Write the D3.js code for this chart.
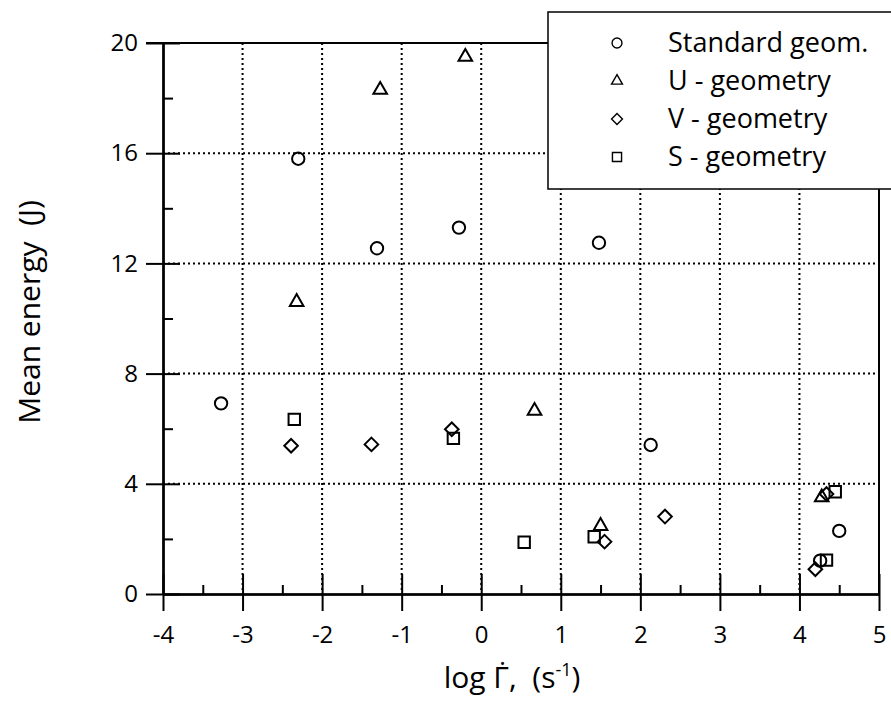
<!DOCTYPE html>
<html>
<head>
<meta charset="utf-8">
<script src="https://cdn.jsdelivr.net/npm/d3@7"></script>
<style>
  body { margin: 0; background: #fff; }
  text { font-family: "Open Sans", sans-serif; fill: #000; white-space: pre; }
</style>
</head>
<body>
<div id="chart"></div>
<script>
// Set the size of the page and the plot box
const width = 891;
const height = 708;
const margin = { top: 43, right: 12, bottom: 114, left: 163 };

// Standard geometry (circles)
const stdX = [-3.27, -2.30, -1.31, -0.28, 1.48, 2.13, 4.50, 4.26];
const stdY = [6.92, 15.8, 12.55, 13.3, 12.75, 5.41, 2.29, 1.21];

// U - geometry (triangles)
const uX = [-2.32, -1.27, -0.20, 0.67, 1.50, 4.28];
const uY = [10.6, 18.3, 19.5, 6.65, 2.47, 3.51];

// V - geometry (diamonds)
const vX = [-2.39, -1.38, -0.37, 1.55, 2.31, 4.34, 4.20];
const vY = [5.38, 5.43, 5.98, 1.90, 2.81, 3.63, 0.90];

// S - geometry (squares)
const sX = [-2.35, -0.35, 0.54, 1.42, 4.45, 4.34];
const sY = [6.34, 5.65, 1.88, 2.08, 3.71, 1.23];

// Axis ticks
const xTicks = [-4, -3, -2, -1, 0, 1, 2, 3, 4, 5];
const xMinor = [-3.5, -2.5, -1.5, -0.5, 0.5, 1.5, 2.5, 3.5, 4.5];
const yTicks = [0, 4, 8, 12, 16, 20];
const yMinor = [2, 6, 10, 14, 18];

const seriesNames = ["Standard geom.", "U - geometry", "V - geometry", "S - geometry"];
const seriesShapes = ["circle", "triangle", "diamond", "square"];

const series = [
  { name: seriesNames[0], shape: seriesShapes[0], xs: stdX, ys: stdY },
  { name: seriesNames[1], shape: seriesShapes[1], xs: uX, ys: uY },
  { name: seriesNames[2], shape: seriesShapes[2], xs: vX, ys: vY },
  { name: seriesNames[3], shape: seriesShapes[3], xs: sX, ys: sY }
];

const plotW = width - margin.left - margin.right;
const plotH = height - margin.top - margin.bottom;

const svg = d3.select("#chart")
  .append("svg")
  .attr("width", width)
  .attr("height", height);

const g = svg.append("g")
  .attr("transform", "translate(" + margin.left + "," + margin.top + ")");

// Scales
const x = d3.scaleLinear().domain([-4, 5]).range([0, plotW]);
const y = d3.scaleLinear().domain([0, 20]).range([plotH, 0]);

// dotted grid lines
g.selectAll(".vgrid")
  .data(xTicks.filter(d => d > -4 && d < 5))
  .enter()
  .append("line")
  .attr("x1", d => x(d)).attr("x2", d => x(d))
  .attr("y1", 0).attr("y2", plotH)
  .attr("stroke", "#000")
  .attr("stroke-width", 2)
  .attr("stroke-dasharray", "2,3");

g.selectAll(".hgrid")
  .data(yTicks.filter(d => d > 0 && d < 20))
  .enter()
  .append("line")
  .attr("x1", 0).attr("x2", plotW)
  .attr("y1", d => y(d)).attr("y2", d => y(d))
  .attr("stroke", "#000")
  .attr("stroke-width", 2)
  .attr("stroke-dasharray", "2,3");

// frame: top and right edges
g.append("line")
  .attr("x1", -17).attr("x2", plotW)
  .attr("y1", 0).attr("y2", 0)
  .attr("stroke", "#000").attr("stroke-width", 2);
g.append("line")
  .attr("x1", plotW).attr("x2", plotW)
  .attr("y1", 0).attr("y2", plotH)
  .attr("stroke", "#000").attr("stroke-width", 2);

// style helper for the axes
function styleAxis(sel) {
  sel.selectAll("path").attr("stroke", "#000").attr("stroke-width", 2);
  sel.selectAll("line").attr("stroke", "#000").attr("stroke-width", 2);
  sel.selectAll("text")
    .style("font-family", "'Open Sans', sans-serif")
    .style("font-size", "24px")
    .attr("fill", "#000");
}

const plainFormat = d => String(d);

// x axis: outward ticks with labels
g.append("g")
  .attr("transform", "translate(0," + plotH + ")")
  .call(d3.axisBottom(x).tickValues(xTicks).tickSize(17).tickSizeOuter(0).tickPadding(15).tickFormat(plainFormat))
  .call(styleAxis);

// x axis: inward major ticks
g.append("g")
  .attr("transform", "translate(0," + plotH + ")")
  .call(d3.axisTop(x).tickValues(xTicks).tickSize(20).tickSizeOuter(0).tickFormat(""))
  .call(styleAxis);

// x axis: inward minor ticks
g.append("g")
  .attr("transform", "translate(0," + plotH + ")")
  .call(d3.axisTop(x).tickValues(xMinor).tickSize(9).tickSizeOuter(0).tickFormat(""))
  .call(styleAxis);

// y axis: outward ticks with labels
g.append("g")
  .call(d3.axisLeft(y).tickValues(yTicks).tickSize(17).tickSizeOuter(0).tickPadding(8).tickFormat(plainFormat))
  .call(styleAxis);

// y axis: inward major ticks
g.append("g")
  .call(d3.axisRight(y).tickValues(yTicks).tickSize(17).tickSizeOuter(0).tickFormat(""))
  .call(styleAxis);

// y axis: inward minor ticks
g.append("g")
  .call(d3.axisRight(y).tickValues(yMinor).tickSize(10).tickSizeOuter(0).tickFormat(""))
  .call(styleAxis);

// marker path for a shape, scale k
function markerPath(shape, k) {
  if (shape === "circle") return d3.symbol().type(d3.symbolCircle).size(120 * k * k)();
  if (shape === "triangle") return d3.symbol().type(d3.symbolTriangle).size(80 * k * k)();
  if (shape === "square") return d3.symbol().type(d3.symbolSquare).size(130 * k * k)();
  const r = 6.8 * k; // square diamond
  return "M0," + (-r) + "L" + r + ",0L0," + r + "L" + (-r) + ",0Z";
}

// markers for every series
series.forEach(function(s) {
  const pts = s.xs.map((d, i) => [d, s.ys[i]]);
  g.selectAll(null)
    .data(pts)
    .enter()
    .append("path")
    .attr("d", markerPath(s.shape, 1))
    .attr("transform", d => "translate(" + x(d[0]) + "," + y(d[1]) + ")")
    .attr("fill", "none")
    .attr("stroke", "#000")
    .attr("stroke-width", 2);
});

// legend box
const legend = svg.append("g").attr("transform", "translate(548,12)");
legend.append("rect")
  .attr("x", 0).attr("y", 0)
  .attr("width", 360).attr("height", 177)
  .attr("fill", "#fff")
  .attr("stroke", "#000")
  .attr("stroke-width", 1.5);

const rows = legend.selectAll(".row")
  .data(series)
  .enter()
  .append("g")
  .attr("transform", (d, i) => "translate(0," + (31 + i * 38) + ")");

rows.append("path")
  .attr("d", d => markerPath(d.shape, 0.8))
  .attr("transform", "translate(69,0)")
  .attr("fill", "none")
  .attr("stroke", "#000")
  .attr("stroke-width", 1.4);

rows.append("text")
  .attr("x", 120)
  .attr("y", 0)
  .attr("dy", "0.35em")
  .style("font-size", "27px")
  .text(d => d.name);

// y axis title
svg.append("text")
  .attr("transform", "translate(40," + 312 + ") rotate(-90)")
  .attr("text-anchor", "middle")
  .style("font-size", "30px")
  .text("Mean energy  (J)");

// x axis title
const xt = svg.append("text")
  .attr("x", 512)
  .attr("y", 688)
  .attr("text-anchor", "middle")
  .style("font-size", "30px");
xt.append("tspan").text("log \u0393\u0307,  (s");
xt.append("tspan").attr("dy", -12).style("font-size", "18px").text("-1");
xt.append("tspan").attr("dy", 12).text(")");
</script>
</body>
</html>
